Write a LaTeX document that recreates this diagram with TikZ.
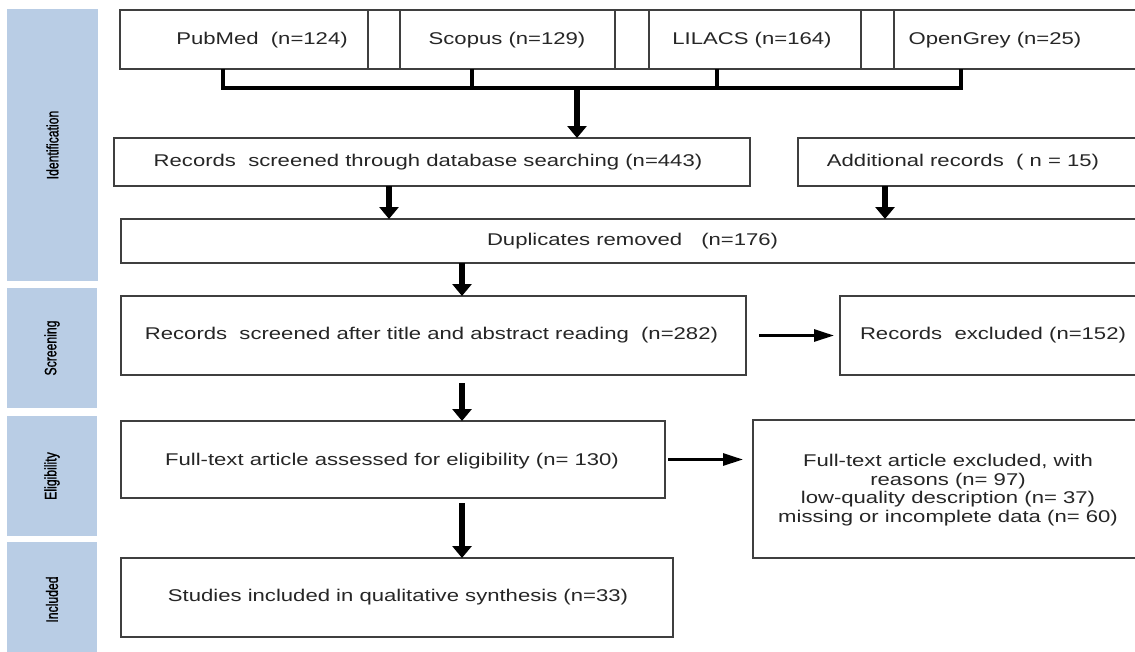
\documentclass[tikz,border=0pt]{standalone}
\usepackage{fontspec}
\setmainfont{Liberation Sans}[FakeStretch=1.3]
\newfontfamily\labfont{Liberation Sans}[FakeStretch=0.74,FakeBold=1.2]
\usetikzlibrary{arrows.meta,calc}
\definecolor{barblue}{HTML}{B9CDE5}
\definecolor{boxgray}{HTML}{3F3F3F}
\definecolor{txtgray}{HTML}{262626}
\tikzset{
  box/.style={draw=boxgray, line width=1.2pt, inner sep=0pt, outer sep=0pt, anchor=north west},
  txt/.style={inner sep=0pt, outer sep=0pt, font=\fontsize{17}{18.5}\selectfont, text=txtgray},
  bar/.style={fill=barblue, draw=none, inner sep=0pt, outer sep=0pt, anchor=north west},
  lab/.style={inner sep=0pt, font=\labfont\fontsize{16.5}{17}\selectfont, rotate=90, text=black},
  varrow/.style={line width=5.5pt, -{Triangle[width=19pt,length=12pt]}},
  harrow/.style={line width=3pt, -{Triangle[width=12pt,length=20pt]}},
  bracket/.style={line width=4.5pt, line join=miter, line cap=butt}
}
\begin{document}
\begin{tikzpicture}[x=1pt,y=-1pt]
\useasboundingbox (0,0) rectangle (1135,651);
\fill[white] (0,0) rectangle (1135,651);
\clip (0,0) rectangle (1135,651);

% phase bars
\node[bar, minimum width=91pt, minimum height=272pt] (bid) at (7,9) {};
\node[bar, minimum width=90pt, minimum height=120pt] (bsc) at (7,288) {};
\node[bar, minimum width=90pt, minimum height=120pt] (bel) at (7,416) {};
\node[bar, minimum width=90pt, minimum height=115pt] (bin) at (7,542) {};
\node[lab] (lid) at (bid.center) {Identification};
\node[lab] (lsc) at (bsc.center) {Screening};
\node[lab] (lel) at (bel.center) {Eligibility};
\node[lab] (lin) at (bin.center) {Included};

% database row
\node[box, minimum width=248pt, minimum height=59pt] (pub) at (120,10) {};
\node[box, minimum width=32pt,  minimum height=59pt] (g1)  at (368,10) {};
\node[box, minimum width=215pt, minimum height=59pt] (sco) at (400,10) {};
\node[box, minimum width=34pt,  minimum height=59pt] (g2)  at (615,10) {};
\node[box, minimum width=212pt, minimum height=59pt] (lil) at (649,10) {};
\node[box, minimum width=33pt,  minimum height=59pt] (g3)  at (861,10) {};
\node[box, minimum width=260pt, minimum height=59pt] (opg) at (894,10) {};
\node[txt] (tpub) at (262,40) {PubMed\ \ (n=124)};
\node[txt] (tsco) at (507,40) {Scopus (n=129)};
\node[txt] (tlil) at (752,40) {LILACS (n=164)};
\node[txt] (topg) at (995,40) {OpenGrey (n=25)};

% flow boxes
\node[box, minimum width=636pt, minimum height=48pt] (rec) at (114,138) {};
\node[box, minimum width=360pt, minimum height=48pt] (add) at (798,138) {};
\node[box, minimum width=1040pt, minimum height=44pt] (dup) at (121,219) {};
\node[box, minimum width=625pt, minimum height=79pt] (scr) at (121,296) {};
\node[box, minimum width=320pt, minimum height=79pt] (exc) at (840,296) {};
\node[box, minimum width=544pt, minimum height=77pt] (ful) at (121,421) {};
\node[box, minimum width=400pt, minimum height=138pt] (fex) at (753,420) {};
\node[box, minimum width=552pt, minimum height=79pt] (stu) at (121,558) {};

\node[txt] (trec) at (428,162) {Records\ \ screened through database searching (n=443)};
\node[txt] (tadd) at (963,162) {Additional records\ \ ( n = 15)};
\node[txt, anchor=west] (tdup) at (487,241) {Duplicates removed\hspace{19pt}(n=176)};
\node[txt, anchor=east] (tscr) at (718,335) {Records\ \ screened after title and abstract reading\ \ (n=282)};
\node[txt, anchor=west] (texc) at (860,335) {Records\ \ excluded (n=152)};
\node[txt] (tful) at (392,461) {Full-text article assessed for eligibility (n= 130)};
\node[txt, align=center] (tfex) at (948,490) {Full-text article excluded, with\\reasons (n= 97)\\low-quality description (n= 37)\\missing or incomplete data (n= 60)};
\node[txt] (tstu) at (398,597) {Studies included in qualitative synthesis (n=33)};

% connector x positions
\coordinate (s1) at (223,88);
\coordinate (s2) at (472,88);
\coordinate (s3) at (717,88);
\coordinate (s4) at (961,88);
\coordinate (c0) at (577,86);
\coordinate (c1) at (389,0);
\coordinate (c2) at (885,0);
\coordinate (c3) at (462,0);

% bracket
\draw[bracket] (pub.south -| s1) -- (s1) -- (s4) -- (opg.south -| s4);
\draw[bracket] (sco.south -| s2) -- (s2);
\draw[bracket] (lil.south -| s3) -- (s3);
\draw[varrow] (c0) -- (rec.north -| c0);

% vertical arrows
\draw[varrow] (rec.south -| c1) -- (dup.north -| c1);
\draw[varrow] (add.south -| c2) -- (dup.north -| c2);
\draw[varrow] (dup.south -| c3) -- (scr.north -| c3);
\draw[varrow, shorten <=8pt] (scr.south -| c3) -- (ful.north -| c3);
\draw[varrow, shorten <=5pt] (ful.south -| c3) -- (stu.north -| c3);

% horizontal arrows
\draw[harrow, shorten <=13pt, shorten >=6pt] (scr.east) -- (scr.east -| exc.west);
\draw[harrow, shorten <=3pt, shorten >=10pt] (ful.east) -- (ful.east -| fex.west);
\end{tikzpicture}
\end{document}
